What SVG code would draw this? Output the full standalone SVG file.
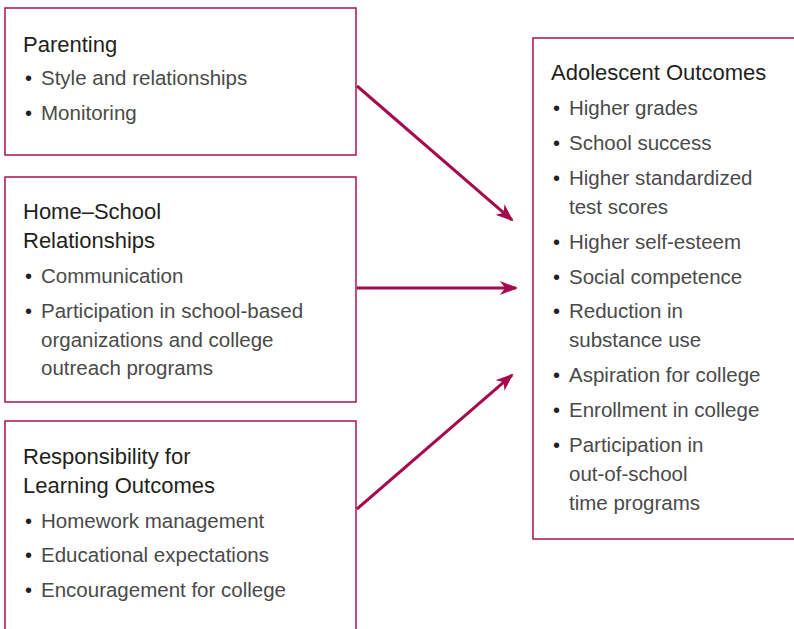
<svg xmlns="http://www.w3.org/2000/svg" width="794" height="629" viewBox="0 0 794 629">
<defs>
<style>
.box{fill:#fff;stroke:#b0205a;stroke-width:1.6}
.t{font-family:"Liberation Sans",Arial,sans-serif;font-size:22px;fill:#231f20}
.i{font-family:"Liberation Sans",Arial,sans-serif;font-size:20.5px;fill:#4a4a4a}
.b{font-family:"Liberation Sans",Arial,sans-serif;font-size:20px;fill:#231f20}
.c{stroke:#a50b4b;stroke-width:3;fill:none}
</style>
<marker id="ah" viewBox="0 0 18 14" refX="16" refY="7" markerWidth="18" markerHeight="14" markerUnits="userSpaceOnUse" orient="auto">
<path d="M0,0 L18,7 L0,14 L5,7 z" fill="#a50b4b"/>
</marker>
</defs>
<rect width="794" height="629" fill="#fff"/>
<g id="parenting">
<rect class="box" x="5" y="8" width="351" height="147"/>
<text class="t" x="23" y="52">Parenting</text>
<text class="b" x="25" y="85">•</text><text class="i" x="41" y="85">Style and relationships</text>
<text class="b" x="25" y="120">•</text><text class="i" x="41" y="120">Monitoring</text>
</g>
<g id="home-school">
<rect class="box" x="5" y="177" width="351" height="225"/>
<text class="t" x="23" y="219">Home–School</text>
<text class="t" x="23" y="248">Relationships</text>
<text class="b" x="25" y="283">•</text><text class="i" x="41" y="283">Communication</text>
<text class="b" x="25" y="318">•</text><text class="i" x="41" y="318">Participation in school-based</text>
<text class="i" x="41" y="347">organizations and college</text>
<text class="i" x="41" y="375">outreach programs</text>
</g>
<g id="responsibility">
<rect class="box" x="5" y="421" width="351" height="220"/>
<text class="t" x="23" y="464">Responsibility for</text>
<text class="t" x="23" y="493">Learning Outcomes</text>
<text class="b" x="25" y="528">•</text><text class="i" x="41" y="528">Homework management</text>
<text class="b" x="25" y="562">•</text><text class="i" x="41" y="562">Educational expectations</text>
<text class="b" x="25" y="597">•</text><text class="i" x="41" y="597">Encouragement for college</text>
</g>
<g id="outcomes">
<rect class="box" x="533" y="38" width="270" height="501"/>
<text class="t" x="551" y="80">Adolescent Outcomes</text>
<text class="b" x="553" y="115">•</text><text class="i" x="569" y="115">Higher grades</text>
<text class="b" x="553" y="150">•</text><text class="i" x="569" y="150">School success</text>
<text class="b" x="553" y="185">•</text><text class="i" x="569" y="185">Higher standardized</text>
<text class="i" x="569" y="214">test scores</text>
<text class="b" x="553" y="249">•</text><text class="i" x="569" y="249">Higher self-esteem</text>
<text class="b" x="553" y="284">•</text><text class="i" x="569" y="284">Social competence</text>
<text class="b" x="553" y="318">•</text><text class="i" x="569" y="318">Reduction in</text>
<text class="i" x="569" y="347">substance use</text>
<text class="b" x="553" y="382">•</text><text class="i" x="569" y="382">Aspiration for college</text>
<text class="b" x="553" y="417">•</text><text class="i" x="569" y="417">Enrollment in college</text>
<text class="b" x="553" y="452">•</text><text class="i" x="569" y="452">Participation in</text>
<text class="i" x="569" y="481">out-of-school</text>
<text class="i" x="569" y="510">time programs</text>
</g>
<g id="connectors">
<line class="c" x1="357" y1="86" x2="512" y2="220" marker-end="url(#ah)"/>
<line class="c" x1="357" y1="288" x2="516" y2="288" marker-end="url(#ah)"/>
<line class="c" x1="357" y1="509" x2="512" y2="375" marker-end="url(#ah)"/>
</g>
</svg>
